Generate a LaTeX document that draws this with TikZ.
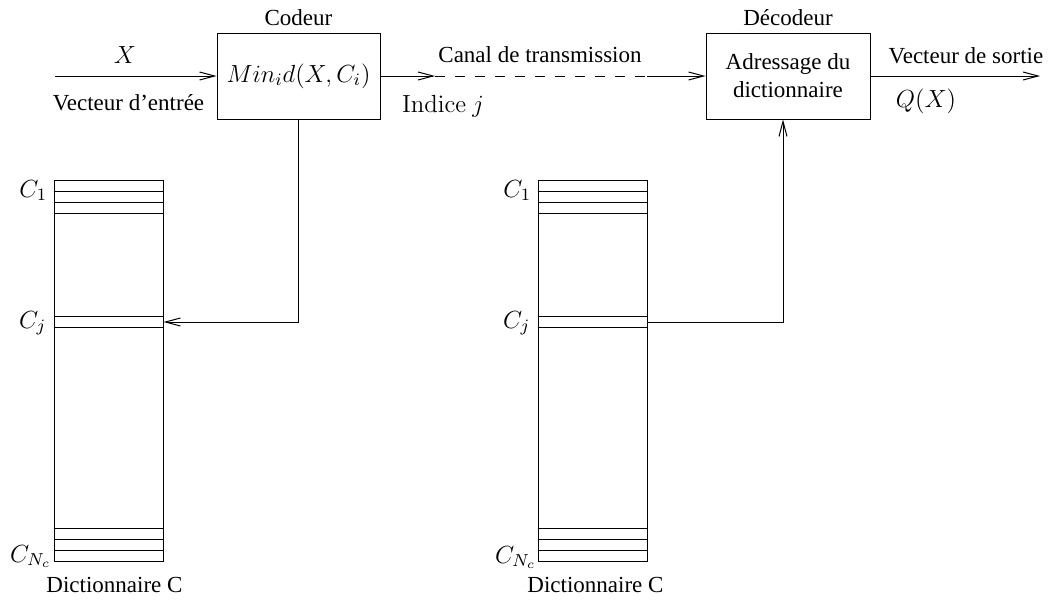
\RequirePackage{fix-cm}
\documentclass[tikz,border=0pt]{standalone}
\usepackage[no-math]{fontspec}
\setmainfont{Liberation Serif}
\usetikzlibrary{arrows.meta, positioning, calc}
\tikzset{%
    boxsty/.style={
        draw,
        align=center,
        inner sep=0pt,
        minimum height=43pt,
        minimum width=81.5pt,
    },
    dictsty/.style={
        draw,
        inner sep=0pt,
        minimum height=190.5pt,
        minimum width=54.5pt,
    },
    labsty/.style={
        anchor=base,
    },
    mathsty/.style={
        font=\fontsize{12.4}{15}\selectfont,
    },
    arrsty/.style={
        -{Straight Barb[length=7.5pt,width=4pt]},
    },
}

\begin{document}
\begin{tikzpicture}[x=0.5pt,y=-0.5pt,line width=0.5pt,font=\fontsize{11.5}{14}\selectfont]
\useasboundingbox (0,0) rectangle (1049,600);

% coder and decoder nodes
\node (cod) [boxsty,mathsty] at (298.5,76) {$Min_i d(X,C_i)$};
\node (dec) [boxsty,minimum width=82pt] at (788,76) {Adressage du\\dictionnaire};
\node (codlab) [above=0pt of cod] {Codeur};
\node (declab) [above=0pt of dec] {Décodeur};

% dictionaries
\node (dictL) [dictsty] at (108.5,370.5) {};
\node (dictR) [dictsty] at (592.5,370.5) {};
\foreach \d in {dictL,dictR}{
    \foreach \y in {191,202,213,316,327,528,539,550}
        \draw (\d.west |- 0,\y) -- (\d.east |- 0,\y);
}
\node (c1L) [mathsty,anchor=base east,inner sep=3pt] at (dictL.west |- 0,197) {$C_1$};
\node (cjL) [mathsty,anchor=base east,inner sep=3.5pt] at (dictL.west |- 0,328) {$C_j$};
\node (cnL) [mathsty,anchor=base east,inner sep=1pt] at (dictL.west |- 0,562) {$C_{N_c}$};
\node (c1R) [mathsty,anchor=base east,inner sep=3pt] at (dictR.west |- 0,197) {$C_1$};
\node (cjR) [mathsty,anchor=base east,inner sep=3.5pt] at (dictR.west |- 0,328) {$C_j$};
\node (cnR) [mathsty,anchor=base east,inner sep=0.5pt] at (dictR.west |- 0,563) {$C_{N_c}$};
\node (dnameL) [below=4.5pt of dictL,xshift=3pt] {Dictionnaire C};
\node (dnameR) [below=4.5pt of dictR,xshift=1.5pt] {Dictionnaire C};

% end points
\coordinate (in) at (55,76);
\coordinate (out) at (1040,76);
\coordinate (ch1) at (435,76);
\coordinate (ch2) at (647,76);
\coordinate (jL) at (dictL.east |- 0,322);
\coordinate (jR) at (dictR.east |- 0,322);

% connectors
\draw[arrsty] (in) -- (cod);
\draw[arrsty] (cod) -- (ch1);
\draw[dash pattern=on 5pt off 5pt] (ch1) -- (ch2);
\draw[arrsty] (ch2) -- (dec);
\draw[arrsty] (dec) -- (out);
\draw[arrsty] (cod.south) |- (jL);
\draw[arrsty] (jR) -| ([xshift=-2.5pt]dec.south);

% labels
\node (xlab) [labsty,mathsty] at (125,63) {$X$};
\node (inlab) [labsty] at (128.5,110) {Vecteur d'entrée};
\node (chlab) [labsty] at (540,62) {Canal de transmission};
\node (idxlab) [labsty,mathsty] at (443,112) {$\mathrm{Indice}\ j$};
\node (outlab) [labsty] at (966,63) {Vecteur de sortie};
\node (qlab) [labsty,mathsty] at (926,107) {$Q(X)$};

\end{tikzpicture}
\end{document}
